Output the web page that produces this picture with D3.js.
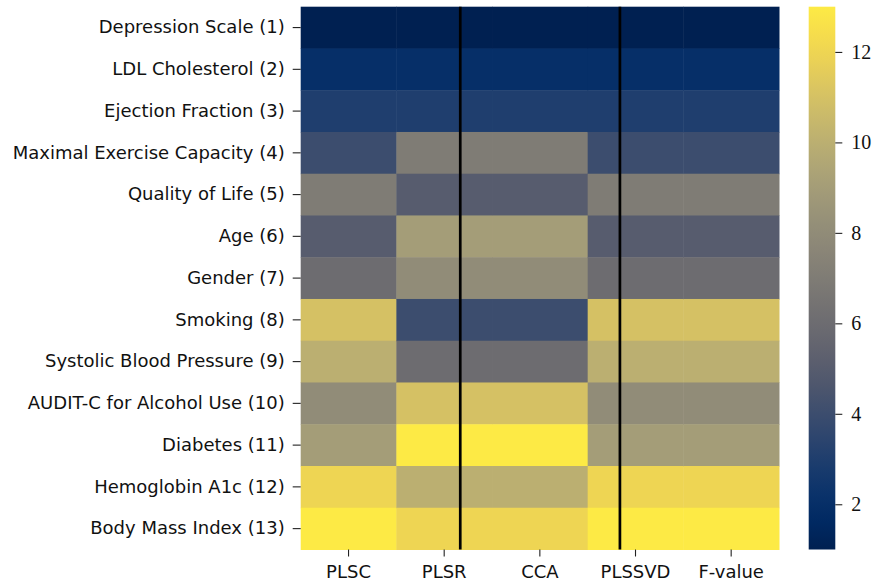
<!DOCTYPE html>
<html>
<head>
<meta charset="utf-8">
<script src="https://cdn.jsdelivr.net/npm/d3@7"></script>
<style>
  body { margin: 0; background: #fff; }
</style>
</head>
<body>
<svg id="chart" width="875" height="585"></svg>
<script>
// rows (features) and columns (methods)
var features = ["Depression Scale (1)", "LDL Cholesterol (2)", "Ejection Fraction (3)",
    "Maximal Exercise Capacity (4)", "Quality of Life (5)", "Age (6)", "Gender (7)",
    "Smoking (8)", "Systolic Blood Pressure (9)", "AUDIT-C for Alcohol Use (10)",
    "Diabetes (11)", "Hemoglobin A1c (12)", "Body Mass Index (13)"];
var methods = ["PLSC", "PLSR", "CCA", "PLSSVD", "F-value"];

// ranks per method, one value per feature
var plsc   = [1, 2, 3, 4, 7, 5, 6, 11, 10, 8, 9, 12, 13];
var plsr   = [1, 2, 3, 7, 5, 9, 8, 4, 6, 11, 13, 10, 12];
var cca    = [1, 2, 3, 7, 5, 9, 8, 4, 6, 11, 13, 10, 12];
var plssvd = [1, 2, 3, 4, 7, 5, 6, 11, 10, 8, 9, 12, 13];
var fvalue = [1, 2, 3, 4, 7, 5, 6, 11, 10, 8, 9, 12, 13];

// separator lines, in column units
var separators = [1.668, 3.337];
var cbarTicks = [2, 4, 6, 8, 10, 12];

var series = [plsc, plsr, cca, plssvd, fvalue];
var cells = [];
for (var j = 0; j < methods.length; j++) {
    for (var i = 0; i < features.length; i++) {
        cells.push({ row: features[i], col: methods[j], v: series[j][i] });
    }
}

var svg = d3.select("#chart");
var plotLeft = 300.7, plotRight = 779, plotTop = 6.7, plotBottom = 549.5;

var x = d3.scaleBand().domain(methods).range([plotLeft, plotRight]);
var xLin = d3.scaleLinear().domain([0, methods.length]).range([plotLeft, plotRight]);
var y = d3.scaleBand().domain(features).range([plotTop, plotBottom]);
var color = d3.scaleSequential(d3.interpolateCividis).domain([1, 13]);

svg.append("g").selectAll("rect")
    .data(cells)
    .enter().append("rect")
    .attr("x", function(d){ return x(d.col); })
    .attr("y", function(d){ return y(d.row); })
    .attr("width", x.bandwidth() + 0.5)
    .attr("height", y.bandwidth() + 0.5)
    .attr("fill", function(d){ return color(d.v); });

svg.append("g").selectAll("line")
    .data(separators)
    .enter().append("line")
    .attr("x1", function(d){ return xLin(d); })
    .attr("x2", function(d){ return xLin(d); })
    .attr("y1", plotTop)
    .attr("y2", plotBottom)
    .attr("stroke", "#000")
    .attr("stroke-width", 2.7);

// axes
var yAxis = svg.append("g")
    .attr("transform", "translate(" + plotLeft + ",0)")
    .call(d3.axisLeft(y).tickSize(8).tickPadding(8));
yAxis.select(".domain").remove();
yAxis.selectAll("line").attr("stroke", "#222").attr("stroke-width", 1.1);
yAxis.selectAll("text")
    .style("font-family", "'DejaVu Sans'")
    .style("font-size", "18px")
    .attr("fill", "#111");

var xAxis = svg.append("g")
    .attr("transform", "translate(0," + plotBottom + ")")
    .call(d3.axisBottom(x).tickSize(7).tickPadding(9));
xAxis.select(".domain").remove();
xAxis.selectAll("line").attr("stroke", "#222").attr("stroke-width", 1.1);
xAxis.selectAll("text")
    .style("font-family", "'DejaVu Sans'")
    .style("font-size", "18px")
    .attr("fill", "#111");

// colorbar
var cbLeft = 808.7, cbRight = 835.3;
var defs = svg.append("defs");
var grad = defs.append("linearGradient")
    .attr("id", "cbgrad")
    .attr("x1", "0").attr("y1", "1").attr("x2", "0").attr("y2", "0");
d3.range(0, 1.0001, 0.05).forEach(function(t){
    grad.append("stop")
        .attr("offset", t)
        .attr("stop-color", d3.interpolateCividis(t));
});
var cy = d3.scaleLinear().domain([1, 13]).range([plotBottom, plotTop]);
svg.append("rect")
    .attr("x", cbLeft)
    .attr("y", plotTop)
    .attr("width", cbRight - cbLeft)
    .attr("height", plotBottom - plotTop)
    .attr("fill", "url(#cbgrad)");

var cAxis = svg.append("g")
    .attr("transform", "translate(" + cbRight + ",0)")
    .call(d3.axisRight(cy).tickValues(cbarTicks).tickSize(7).tickPadding(9));
cAxis.select(".domain").remove();
cAxis.selectAll("line").attr("stroke", "#222").attr("stroke-width", 1.1);
cAxis.selectAll("text")
    .style("font-family", "'Liberation Serif'")
    .style("font-size", "20px")
    .attr("fill", "#111");
</script>
</body>
</html>
